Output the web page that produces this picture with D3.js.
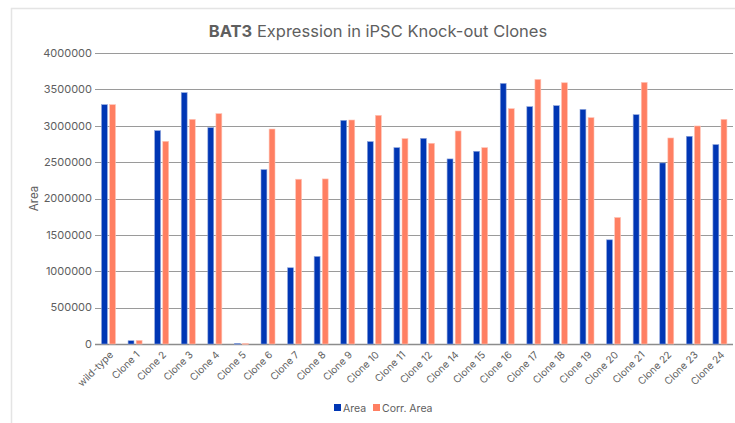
<!DOCTYPE html>
<html>
<head>
<meta charset="utf-8">
<script src="https://cdn.jsdelivr.net/npm/d3@7"></script>
<style>
  body { margin: 0; background: #fff; }
  svg { display: block; font-family: Inter, "Noto Sans", sans-serif; }
</style>
</head>
<body>
<div id="chart"></div>
<script>
// ---- data ----
var categories = ["wild-type", "Clone 1", "Clone 2", "Clone 3", "Clone 4", "Clone 5", "Clone 6",
  "Clone 7", "Clone 8", "Clone 9", "Clone 10", "Clone 11", "Clone 12", "Clone 14", "Clone 15",
  "Clone 16", "Clone 17", "Clone 18", "Clone 19", "Clone 20", "Clone 21", "Clone 22",
  "Clone 23", "Clone 24"];
var areaValues = [3290000, 45000, 2933000, 3455000, 2974000, 8000, 2397000, 1048000, 1203000,
  3074000, 2782000, 2699000, 2827000, 2544000, 2649000, 3582000, 3262000, 3276000, 3225000,
  1432000, 3152000, 2489000, 2855000, 2741000];
var corrAreaValues = [3290000, 50000, 2786000, 3088000, 3166000, 6000, 2955000, 2265000, 2269000,
  3079000, 3143000, 2823000, 2759000, 2928000, 2699000, 3235000, 3637000, 3591000, 3111000,
  1739000, 3596000, 2832000, 2997000, 3088000];
var seriesNames = ["Area", "Corr. Area"];
var yTicks = [0, 500000, 1000000, 1500000, 2000000, 2500000, 3000000, 3500000, 4000000];

var width = 735, height = 423;
var margin = { top: 53, left: 95, right: 2 };
var innerW = width - margin.left - margin.right;
var innerH = 291;
var colors = ["#0036b4", "#ff7f62"];

var svg = d3.select("#chart").append("svg")
  .attr("width", width)
  .attr("height", height);

// frame
svg.append("rect")
  .attr("x", 11.5).attr("y", 8.5)
  .attr("width", 740).attr("height", 430)
  .attr("fill", "none")
  .attr("stroke", "#e4e4e4")
  .attr("stroke-width", 1.5);

// title
var title = svg.append("text")
  .attr("x", 378).attr("y", 37)
  .attr("text-anchor", "middle")
  .attr("font-size", 16.5)
  .attr("fill", "#5f5f5f");
title.append("tspan").attr("font-weight", "bold").text("BAT3");
title.append("tspan").text(" Expression in iPSC Knock-out Clones");

var g = svg.append("g")
  .attr("transform", "translate(" + margin.left + "," + margin.top + ")");

var x = d3.scaleBand().domain(categories).range([0, innerW]);
var x1 = d3.scaleBand().domain(seriesNames).range([6.5, 20.5]).paddingInner(0.27);
var y = d3.scaleLinear().domain([0, 4000000]).range([innerH, 0]);

// gridlines
g.selectAll(".grid")
  .data(yTicks)
  .enter().append("line")
  .attr("class", "grid")
  .attr("x1", 0).attr("x2", innerW)
  .attr("y1", function(d) { return Math.round(y(d)) + 0.5; })
  .attr("y2", function(d) { return Math.round(y(d)) + 0.5; })
  .attr("stroke", function(d) { return d === 0 ? "#8c8c8c" : "#9a9a9a"; })
  .attr("stroke-width", function(d) { return d === 0 ? 1.5 : 1.2; });

// y axis labels
g.selectAll(".ylab")
  .data(yTicks)
  .enter().append("text")
  .attr("class", "ylab")
  .attr("x", -3)
  .attr("y", function(d) { return y(d); })
  .attr("dy", "0.35em")
  .attr("text-anchor", "end")
  .attr("font-size", 11)
  .attr("fill", "#5e5e5e")
  .text(function(d) { return d; });

svg.append("text")
  .attr("transform", "translate(38," + (margin.top + innerH / 2) + ") rotate(-90)")
  .attr("text-anchor", "middle")
  .attr("font-size", 11.5)
  .attr("fill", "#5e5e5e")
  .text("Area");

// bars
var rows = categories.map(function(c, i) {
  return { cat: c, values: [areaValues[i], corrAreaValues[i]] };
});

var groups = g.selectAll(".grp")
  .data(rows)
  .enter().append("g")
  .attr("class", "grp")
  .attr("transform", function(d) { return "translate(" + x(d.cat) + ",0)"; });

groups.selectAll("rect")
  .data(function(d) {
    return d.values.map(function(v, k) { return { key: seriesNames[k], value: v, k: k }; });
  })
  .enter().append("rect")
  .attr("x", function(d) { return x1(d.key); })
  .attr("width", x1.bandwidth())
  .attr("y", function(d) { return y(d.value); })
  .attr("height", function(d) { return Math.max(0.8, innerH - y(d.value)); })
  .attr("fill", function(d) { return colors[d.k]; })
  .attr("stroke", function(d) { return d.k === 0 ? "#8fa6dc" : "#ffc4b6"; })
  .attr("stroke-width", 0.6);

// x labels
g.selectAll(".xlab")
  .data(categories)
  .enter().append("text")
  .attr("class", "xlab")
  .attr("transform", function(d) {
    return "translate(" + (x(d) + x.bandwidth() / 2 + 3) + "," + (innerH + 9) + ") rotate(-45)";
  })
  .attr("text-anchor", "end")
  .attr("dy", "0.35em")
  .attr("font-size", 10)
  .attr("fill", "#5e5e5e")
  .text(function(d) { return d; });

// legend
var legend = svg.append("g").attr("transform", "translate(334,404)");
var legendX = [0, 39];
seriesNames.forEach(function(s, i) {
  legend.append("rect")
    .attr("x", legendX[i]).attr("y", 0)
    .attr("width", 7).attr("height", 7)
    .attr("fill", colors[i]);
  legend.append("text")
    .attr("x", legendX[i] + 9).attr("y", 7.5)
    .attr("font-size", 10.5)
    .attr("fill", "#5e5e5e")
    .text(s);
});
</script>
</body>
</html>
